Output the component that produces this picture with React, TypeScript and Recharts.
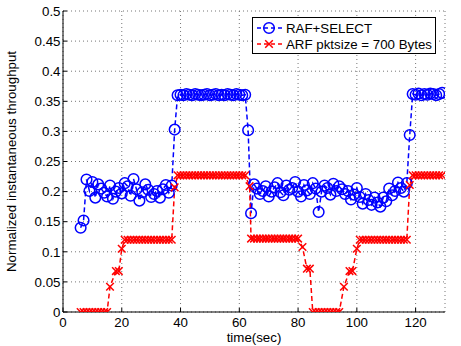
import React from 'react';
import { LineChart, Line, XAxis, YAxis, CartesianGrid, Legend } from 'recharts';

// ---- data ----------------------------------------------------------------
const xTicks = [0, 20, 40, 60, 80, 100, 120];
const yTicks = [0, 0.05, 0.1, 0.15, 0.2, 0.25, 0.3, 0.35, 0.4, 0.45, 0.5];
const seriesNames = ['RAF+SELECT', 'ARF pktsize = 700 Bytes'];

// RAF+SELECT, sampled every second from t = 6 s to t = 129 s
const blueTime = [
  6, 7, 8, 9, 10, 11, 12, 13, 14, 15, 16, 17, 18, 19, 20, 21, 22, 23, 24, 25,
  26, 27, 28, 29, 30, 31, 32, 33, 34, 35, 36, 37, 38, 39, 40, 41, 42, 43, 44, 45,
  46, 47, 48, 49, 50, 51, 52, 53, 54, 55, 56, 57, 58, 59, 60, 61, 62, 63, 64, 65,
  66, 67, 68, 69, 70, 71, 72, 73, 74, 75, 76, 77, 78, 79, 80, 81, 82, 83, 84, 85,
  86, 87, 88, 89, 90, 91, 92, 93, 94, 95, 96, 97, 98, 99, 100, 101, 102, 103, 104, 105,
  106, 107, 108, 109, 110, 111, 112, 113, 114, 115, 116, 117, 118, 119, 120, 121, 122, 123, 124, 125,
  126, 127, 128, 129,
];
const blueThroughput = [
  0.140, 0.152, 0.220, 0.201, 0.216, 0.190, 0.212, 0.205, 0.198, 0.192,
  0.210, 0.188, 0.200, 0.206, 0.197, 0.214, 0.209, 0.193, 0.221, 0.204,
  0.185, 0.199, 0.212, 0.203, 0.191, 0.196, 0.201, 0.190, 0.204, 0.211,
  0.198, 0.210, 0.303, 0.360, 0.361, 0.360, 0.362, 0.361, 0.360, 0.362,
  0.361, 0.360, 0.361, 0.362, 0.360, 0.361, 0.362, 0.360, 0.361, 0.360,
  0.362, 0.361, 0.360, 0.362, 0.361, 0.360, 0.361, 0.302, 0.164, 0.212,
  0.205, 0.196, 0.201, 0.209, 0.192, 0.200, 0.207, 0.214, 0.199, 0.194,
  0.210, 0.203, 0.206, 0.216, 0.200, 0.192, 0.211, 0.202, 0.196, 0.214,
  0.205, 0.166, 0.200, 0.210, 0.206, 0.195, 0.213, 0.201, 0.209, 0.204,
  0.196, 0.201, 0.187, 0.195, 0.206, 0.191, 0.180, 0.196, 0.186, 0.178,
  0.190, 0.182, 0.175, 0.190, 0.184, 0.205, 0.194, 0.201, 0.215, 0.206,
  0.200, 0.214, 0.294, 0.362, 0.361, 0.363, 0.360, 0.362, 0.361, 0.363,
  0.362, 0.360, 0.362, 0.364,
];

// ARF with 700-byte packets
const redTime = [
  6, 7, 8, 9, 10, 11, 12, 13, 14, 15, 16, 18, 19, 20,
  21, 22, 23, 24, 25, 26, 27, 28, 29, 30, 31, 32, 33, 34, 35, 36, 37, 38,
  39, 40, 41, 42, 43, 44, 45, 46, 47, 48, 49, 50, 51, 52, 53, 54, 55, 56,
  57, 58, 59, 60, 61, 62, 63.5,
  64, 65, 66, 67, 68, 69, 70, 71, 72, 73, 74, 75, 76, 77, 78, 79, 80, 81.5, 83, 84,
  85, 86, 87, 88, 89, 90, 91, 92, 93, 94, 95.6, 97.5, 98.5, 100,
  101, 102, 103, 104, 105, 106, 107, 108, 109, 110, 111, 112, 113, 114, 115, 116, 117, 118,
  119, 120, 121, 122, 123, 124, 125, 126, 127, 128, 129,
];
const redThroughput = [
  0, 0, 0, 0, 0, 0, 0, 0, 0, 0, 0.042, 0.068, 0.068, 0.105,
  0.12, 0.12, 0.12, 0.12, 0.12, 0.12, 0.12, 0.12, 0.12, 0.12, 0.12, 0.12, 0.12, 0.12, 0.12, 0.12, 0.12, 0.207,
  0.227, 0.227, 0.227, 0.227, 0.227, 0.227, 0.227, 0.227, 0.227, 0.227, 0.227, 0.227, 0.227, 0.227, 0.227, 0.227, 0.227, 0.227,
  0.227, 0.227, 0.227, 0.227, 0.227, 0.227, 0.209,
  0.122, 0.122, 0.122, 0.122, 0.122, 0.122, 0.122, 0.122, 0.122, 0.122, 0.122, 0.122, 0.122, 0.122, 0.122, 0.122, 0.122, 0.108, 0.072, 0.072,
  0, 0, 0, 0, 0, 0, 0, 0, 0, 0, 0.042, 0.068, 0.068, 0.105,
  0.12, 0.12, 0.12, 0.12, 0.12, 0.12, 0.12, 0.12, 0.12, 0.12, 0.12, 0.12, 0.12, 0.12, 0.12, 0.12, 0.12, 0.211,
  0.227, 0.227, 0.227, 0.227, 0.227, 0.227, 0.227, 0.227, 0.227, 0.227, 0.227,
];

const blueData = blueTime.map((t, i) => ({ t, v: blueThroughput[i] }));
const redData = redTime.map((t, i) => ({ t, v: redThroughput[i] }));

// ---- styling -------------------------------------------------------------
const FONT = '"Liberation Sans", Arial, Helvetica, sans-serif';
const FS = 13.3;
const BLUE = '#0000ff';
const RED = '#ff0000';
const LW = 1.5;

const XTick = (props: any) => {
  const { x, y, payload } = props;
  return (
    <g>
      <line x1={x} x2={x} y1={y} y2={y - 4} stroke="#000" strokeWidth={1} />
      <text x={x} y={y + 14.5} textAnchor="middle" fontFamily={FONT} fontSize={FS} fill="#000">
        {payload.value}
      </text>
    </g>
  );
};

const YTick = (props: any) => {
  const { x, y, payload } = props;
  return (
    <g>
      <line x1={x} x2={x + 4} y1={y} y2={y} stroke="#000" strokeWidth={1} />
      <text x={x - 2.5} y={y} dy="0.36em" textAnchor="end" fontFamily={FONT} fontSize={FS} fill="#000">
        {payload.value}
      </text>
    </g>
  );
};

const YLabel = (props: any) => {
  const vb = props.viewBox || {};
  const cy = (vb.y ?? 11) + (vb.height ?? 301) / 2;
  const bx = 16;
  return (
    <text
      x={bx}
      y={cy}
      transform={`rotate(-90, ${bx}, ${cy})`}
      textAnchor="middle"
      fontFamily={FONT}
      fontSize={FS}
      fill="#000"
    >
      Normalized instantaneous throughput
    </text>
  );
};

const XLabel = (props: any) => {
  const vb = props.viewBox || {};
  const cx = (vb.x ?? 63) + (vb.width ?? 382) / 2;
  return (
    <text x={cx} y={342} textAnchor="middle" fontFamily={FONT} fontSize={FS} fill="#000">
      time(sec)
    </text>
  );
};

const CircleDot = (props: any) => {
  const { cx, cy, index } = props;
  if (cx == null || cy == null) return <g key={`b-${index}`} />;
  return <circle key={`b-${index}`} cx={cx} cy={cy} r={5.3} fill="none" stroke={BLUE} strokeWidth={LW} />;
};

const CrossDot = (props: any) => {
  const { cx, cy, index } = props;
  if (cx == null || cy == null) return <g key={`r-${index}`} />;
  const s = 3.8;
  return (
    <g key={`r-${index}`}>
      <line x1={cx - s} y1={cy - s} x2={cx + s} y2={cy + s} stroke={RED} strokeWidth={LW} />
      <line x1={cx - s} y1={cy + s} x2={cx + s} y2={cy - s} stroke={RED} strokeWidth={LW} />
    </g>
  );
};

const LegendBox = () => (
  <div
    style={{
      border: '1px solid #000',
      background: '#fff',
      width: 182,
      height: 35,
      boxSizing: 'content-box',
      fontFamily: FONT,
      fontSize: FS,
      color: '#000',
      position: 'relative',
    }}
  >
    <svg width={182} height={35} style={{ position: 'absolute', left: 0, top: 0 }}>
      <line x1={4} x2={30} y1={10} y2={10} stroke={BLUE} strokeWidth={LW} strokeDasharray="4 3" />
      <circle cx={16} cy={10} r={5.3} fill="none" stroke={BLUE} strokeWidth={LW} />
      <line x1={4} x2={30} y1={26} y2={26} stroke={RED} strokeWidth={LW} strokeDasharray="4 3" />
      <line x1={12.2} y1={22.2} x2={19.8} y2={29.8} stroke={RED} strokeWidth={LW} />
      <line x1={12.2} y1={29.8} x2={19.8} y2={22.2} stroke={RED} strokeWidth={LW} />
      <text x={33} y={10} dy="0.36em" fontFamily={FONT} fontSize={FS}>{seriesNames[0]}</text>
      <text x={33} y={26} dy="0.36em" fontFamily={FONT} fontSize={FS}>{seriesNames[1]}</text>
    </svg>
  </div>
);

export default function App() {
  return (
    <div style={{ position: 'absolute', left: 0, top: 0, width: 461, height: 346, background: '#fff' }}>
      <LineChart width={461} height={346} margin={{ top: 11, right: 16, bottom: 4, left: 8 }}>
        <CartesianGrid stroke="#666" strokeWidth={0.9} strokeDasharray="1 3" />
        <XAxis
          dataKey="t"
          type="number"
          domain={[0, 130]}
          ticks={xTicks}
          interval={0}
          allowDataOverflow
          height={30}
          axisLine={{ stroke: '#000', strokeWidth: 1 }}
          tickLine={false}
          tickSize={0}
          tickMargin={0}
          tick={<XTick />}
          label={<XLabel />}
        />
        <YAxis
          type="number"
          domain={[0, 0.5]}
          ticks={yTicks}
          interval={0}
          allowDataOverflow
          width={55}
          axisLine={{ stroke: '#000', strokeWidth: 1 }}
          tickLine={false}
          tickSize={0}
          tickMargin={0}
          tick={<YTick />}
          label={<YLabel />}
        />
        <Legend
          layout="vertical"
          align="center"
          verticalAlign="middle"
          wrapperStyle={{ left: 252, top: 17, width: 184, height: 37 }}
          content={() => <LegendBox />}
        />
        <Line
          data={blueData}
          dataKey="v"
          name={seriesNames[0]}
          stroke={BLUE}
          strokeWidth={LW}
          strokeDasharray="5 3"
          dot={CircleDot}
          activeDot={false}
          isAnimationActive={false}
        />
        <Line
          data={redData}
          dataKey="v"
          name={seriesNames[1]}
          stroke={RED}
          strokeWidth={LW}
          strokeDasharray="5 3"
          dot={CrossDot}
          activeDot={false}
          isAnimationActive={false}
        />
      </LineChart>
    </div>
  );
}
